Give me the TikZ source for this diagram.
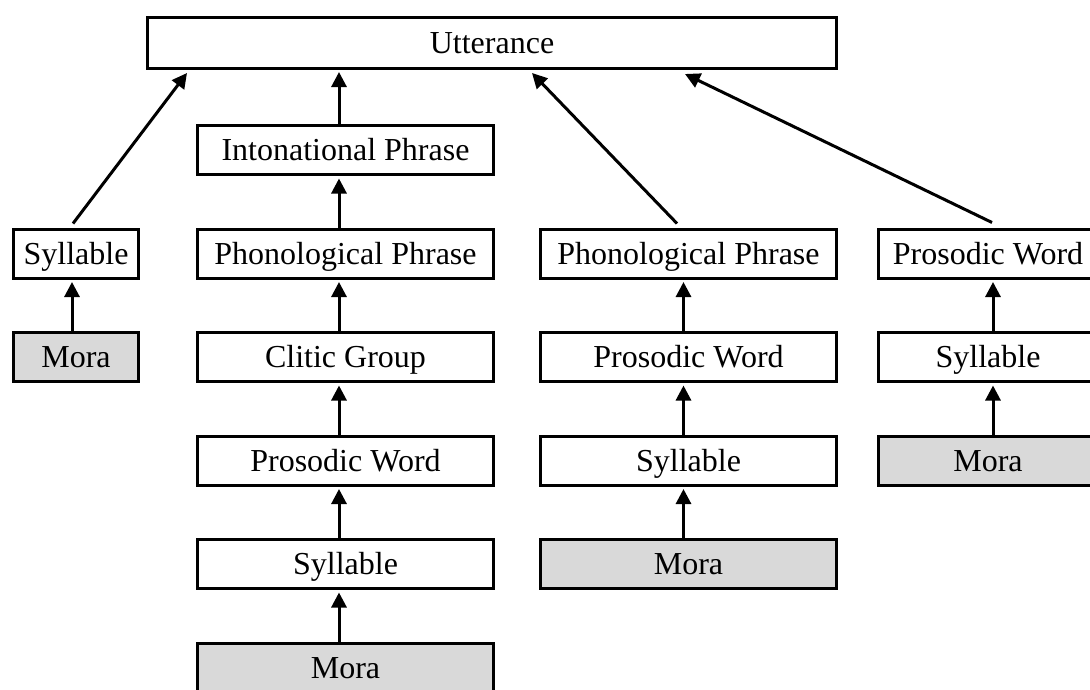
\documentclass[tikz,border=0pt]{standalone}
\usepackage{fontspec}
\setmainfont{Liberation Serif}
\usetikzlibrary{arrows.meta}
\tikzset{
  box/.style={draw=black, line width=3pt, fill=white, inner sep=0pt,
    minimum height=49pt, text height=22pt, text depth=1pt,
    font=\fontsize{32pt}{38pt}\selectfont},
  mora/.style={box, fill=black!15},
  arr/.style={line width=3pt, -{Triangle[length=15pt,width=15pt]}}
}
\begin{document}
\begin{tikzpicture}[x=1pt,y=-1pt]
\useasboundingbox (0,0) rectangle (1090,689);
% top
\node[box, minimum width=689pt, minimum height=51pt] (utt) at (492,43) {Utterance};
% column 1
\node[box, minimum width=125pt] (syl1) at (76,253.5) {Syllable};
\node[mora, minimum width=125pt] (mora1) at (76,357) {Mora};
% column 2
\node[box, minimum width=296pt] (ip) at (345.5,150) {Intonational Phrase};
\node[box, minimum width=296pt] (pp2) at (345.5,253.5) {Phonological Phrase};
\node[box, minimum width=296pt] (cg2) at (345.5,357) {Clitic Group};
\node[box, minimum width=296pt] (pw2) at (345.5,460.5) {Prosodic Word};
\node[box, minimum width=296pt] (syl2) at (345.5,564) {Syllable};
\node[mora, minimum width=296pt] (mora2) at (345.5,667.5) {Mora};
% column 3
\node[box, minimum width=296pt] (pp3) at (688.5,253.5) {Phonological Phrase};
\node[box, minimum width=296pt] (pw3) at (688.5,357) {Prosodic Word};
\node[box, minimum width=296pt] (syl3) at (688.5,460.5) {Syllable};
\node[mora, minimum width=296pt] (mora3) at (688.5,564) {Mora};
% column 4
\node[box, minimum width=219pt] (pw4) at (988,253.5) {Prosodic Word};
\node[box, minimum width=219pt] (syl4) at (988,357) {Syllable};
\node[mora, minimum width=219pt] (mora4) at (988,460.5) {Mora};
% arrows to Utterance
\draw[arr] ([xshift=-3pt,yshift=4pt]syl1.north) -- ([xshift=41pt,yshift=-3pt]utt.south west);
\draw[arr] ([xshift=-6.5pt]ip.north) -- ([xshift=193pt,yshift=-2pt]utt.south west);
\draw[arr] ([xshift=-11.5pt,yshift=4pt]pp3.north) -- ([xshift=386pt,yshift=-3pt]utt.south west);
\draw[arr] ([xshift=4pt,yshift=5pt]pw4.north) -- ([xshift=539pt,yshift=-4pt]utt.south west);
% vertical arrows
\foreach \a/\b/\d in {mora1/syl1/-4,
    pp2/ip/-6.5, cg2/pp2/-6.5, pw2/cg2/-6.5, syl2/pw2/-6.5, mora2/syl2/-6.5,
    pw3/pp3/-5, syl3/pw3/-5, mora3/syl3/-5,
    syl4/pw4/5, mora4/syl4/5}
  \draw[arr] ([xshift=\d pt]\a.north) -- ([xshift=\d pt,yshift=-2.5pt]\b.south);
\end{tikzpicture}
\end{document}
